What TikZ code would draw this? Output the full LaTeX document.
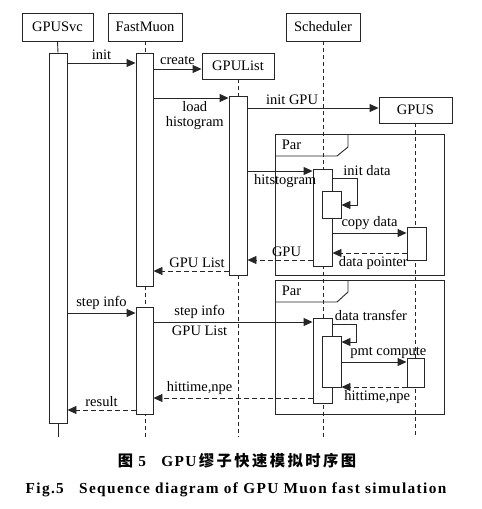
\documentclass[tikz,border=0pt]{standalone}
\usepackage{fontspec}
\setmainfont{Liberation Serif}
\newfontfamily\cjk{Noto Sans CJK SC}[LetterSpace=16]
\newfontfamily\capfont{Liberation Serif}[LetterSpace=9]
\usetikzlibrary{arrows.meta}

\begin{document}
\begin{tikzpicture}[x=1pt,y=-1pt,line width=0.9pt,draw=black!85,font=\fontsize{14.5}{15}\selectfont]
    \tikzstyle{obj}=[draw,rectangle,inner sep=0pt,minimum height=28pt]
    \tikzstyle{act}=[draw,rectangle,fill=white,inner sep=0pt,minimum width=18pt]
    \tikzstyle{life}=[dash pattern=on 4pt off 3pt]
    \tikzstyle{msg}=[-{Triangle[length=9pt,width=8pt]}]
    \tikzstyle{ret}=[msg,dash pattern=on 5pt off 3pt]
    \tikzstyle{frame}=[draw]
    \tikzstyle{caption}=[font=\fontsize{15.3}{17}\selectfont\bfseries]
    \useasboundingbox (0,0) rectangle (482,509);

    %%% DRAW THE OBJECTS
    \foreach \name/\x/\w/\txt in {svc/57.5/71/GPUSvc,fm/145/74/FastMuon,sch/323/74/Scheduler}
        \node[obj,minimum width=\w pt] (\name) at (\x,27) {\txt};
    \node[obj,minimum width=72pt,minimum height=26pt] (gl) at (238,66) {GPUList};
    \node[obj,minimum width=73pt,minimum height=26pt] (gpus) at (415.5,110) {GPUS};

    %%% LIFELINES
    \foreach \name in {fm,gl,sch,gpus}
        \draw[life] (\name.south) -- (\name.south |- 0,437);

    %%% PAR FRAMES
    \draw[frame] (275,134) rectangle (444,275);
    \draw (275,156) -- (337,156) -- (348,147) -- (348,134);
    \node[anchor=west] (par1) at (278,145) {Par};
    \draw[frame] (275,280) rectangle (444,414);
    \draw (275,302) -- (337,302) -- (348,292) -- (348,280);
    \node[anchor=west] (par2) at (278,291) {Par};

    %%% ACTIVATIONS
    \node[act,minimum height=370pt] (svc-a) at (58,238) {};
    \draw (svc.south) -- (svc-a.north);
    \draw (svc-a.south) -- (svc-a.south |- 0,437);
    \node[act,minimum width=17pt,minimum height=233pt] (fm-a1) at (144.5,169.5) {};
    \node[act,minimum width=17pt,minimum height=107pt] (fm-a2) at (144.5,360.5) {};
    \node[act,minimum height=179pt] (gl-a) at (238,185.5) {};
    \node[act,minimum width=19pt,minimum height=97pt] (sch-a1) at (322.5,217.5) {};
    \node[act,minimum width=19pt,minimum height=27pt] (sch-n1) at (331.5,204.5) {};
    \node[act,minimum width=19pt,minimum height=33pt] (gpus-a1) at (416.5,243.5) {};
    \node[act,minimum width=19pt,minimum height=85pt] (sch-a2) at (322.5,360.5) {};
    \node[act,minimum width=19pt,minimum height=51pt] (sch-n2) at (331.5,361.5) {};
    \node[act,minimum width=17pt,minimum height=29pt] (gpus-a2) at (415.5,372.5) {};

    %%% DRAW THE MESSAGES
    \draw[msg] (svc-a.east |- 0,63) -- node[above] {init} (fm-a1.west |- 0,63);
    \draw[msg] (fm-a1.east |- 0,69) -- node[above=1pt] {create} (gl.west |- 0,69);
    \draw[msg] (fm-a1.east |- 0,98) -- node[below,align=center,pos=0.55] {load\\histogram} (gl-a.west |- 0,98);
    \draw[msg] (gl-a.east |- 0,108) -- node[above,pos=0.34] {init GPU} (gpus.west |- 0,108);
    \draw[msg] (gl-a.east |- 0,171) -- node[below,pos=0.58] {hitstogram} (sch-a1.west |- 0,171);
    \draw[msg] (sch-a1.east |- 0,178) -- (357,178) -- (357,205) -- (sch-n1.east |- 0,205);
    \node (initdata) at (367,171) {init data};
    \draw[msg] (sch-a1.east |- 0,233) -- node[above] {copy data} (gpus-a1.west |- 0,233);
    \draw[ret] (gpus-a1.west |- 0,253) -- node[below,pos=0.45] {data pointer} (sch-a1.east |- 0,253);
    \draw[ret] (sch-a1.west |- 0,260) -- node[above,pos=0.4] {GPU} (gl-a.east |- 0,260);
    \draw[ret] (gl-a.west |- 0,271) -- node[above,pos=0.42] {GPU List} (fm-a1.east |- 0,271);

    \draw[msg] (svc-a.east |- 0,313) -- node[above] {step info} (fm-a2.west |- 0,313);
    \draw[msg] (fm-a2.east |- 0,322) -- node[above,pos=0.29] {step info} node[below,pos=0.29] {GPU List} (sch-a2.west |- 0,322);
    \draw[msg] (sch-a2.east |- 0,324) -- (356,324) -- (356,342) -- (sch-n2.east |- 0,342);
    \node (datatransfer) at (371,315) {data transfer};
    \draw[msg] (sch-n2.east |- 0,362) -- node[above,pos=0.72] {pmt compute} (gpus-a2.west |- 0,362);
    \draw[ret] (gpus-a2.west |- 0,387) -- node[below,pos=0.45] {hittime,npe} (sch-n2.east |- 0,387);
    \draw[ret] (sch-a2.west |- 0,398) -- node[above,pos=0.71] {hittime,npe} (fm-a2.east |- 0,398);
    \draw[ret] (fm-a2.west |- 0,410) -- node[above] {result} (svc-a.east |- 0,410);

    %%% CAPTION
    \node[caption] (cap-cn) at (237,461) {{\cjk 图}\capfont\bfseries\ 5\quad GPU\,{\cjk 缪子快速模拟时序图}};
    \node[caption] (cap-en) at (236,490) {\capfont\bfseries Fig.5\quad Sequence diagram of GPU Muon fast simulation};
\end{tikzpicture}
\end{document}
